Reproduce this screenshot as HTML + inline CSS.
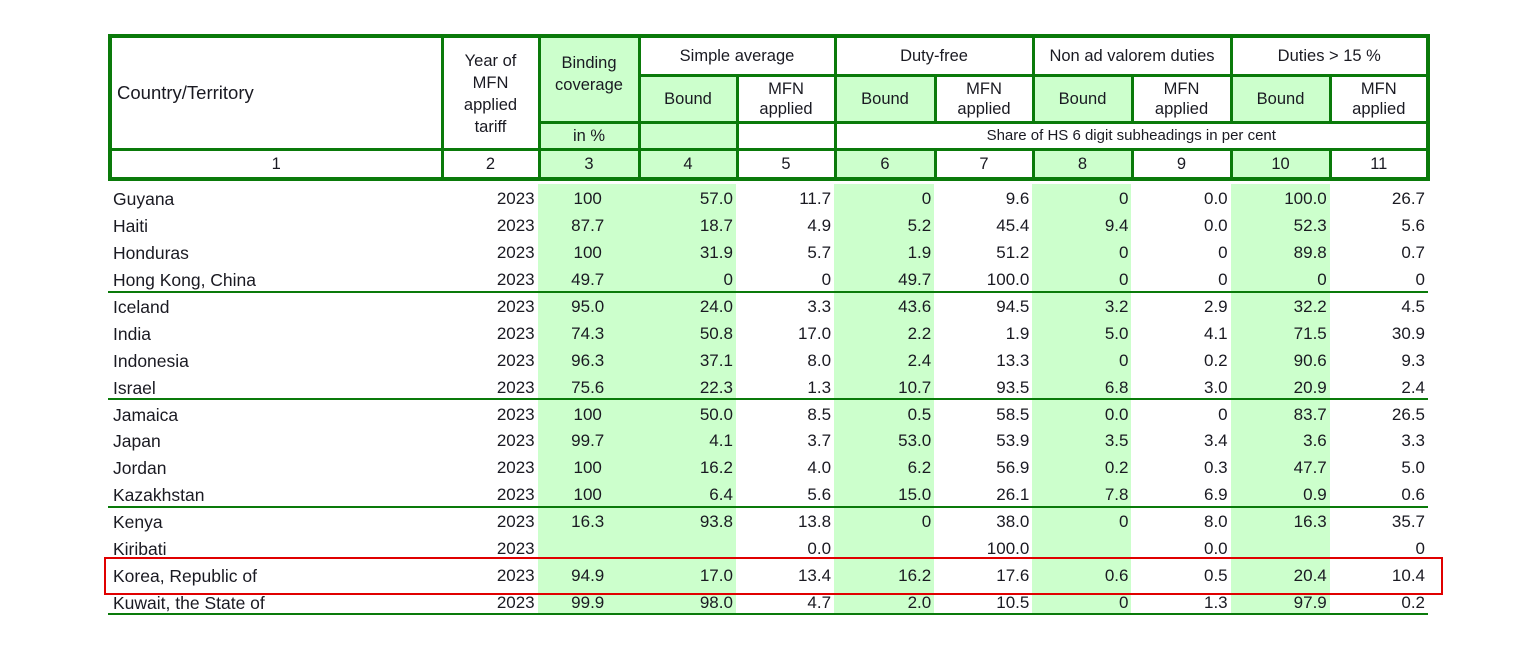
<!DOCTYPE html>
<html><head><meta charset="utf-8">
<style>
html,body{margin:0;padding:0;background:#fff;width:1516px;height:645px;overflow:hidden;}
body{font-family:"Liberation Sans",Arial,sans-serif;color:#1a1a22;position:relative;}
table{border-collapse:collapse;table-layout:fixed;position:absolute;left:108px;width:1320px;}
#hdr{top:34px;border:4px solid #0a7a0a;}
#hdr td{border:3px solid #0a7a0a;text-align:center;font-size:16.5px;line-height:20px;padding:0;}
#hdr .g{background:#ccffcc;}
#body{top:184px;}
#body td{height:26.9px;padding:4px 3px 0 0;font-size:17px;text-align:right;vertical-align:middle;line-height:20px;box-sizing:border-box;}
#body td.c1{text-align:left;padding-left:5px;font-size:17.5px;}
#body td.c3{text-align:center;padding-right:0;}
#body td.g{background:#ccffcc;}
.sepline{position:absolute;left:108px;width:1320px;height:2px;background:#0a7a0a;}
#redbox{position:absolute;left:104px;top:557px;width:1335px;height:34px;border:2px solid #e00000;}
</style></head><body>
<table id="hdr">
<colgroup><col style="width:332px"><col style="width:97px"><col style="width:100px"><col style="width:98px"><col style="width:98px"><col style="width:100px"><col style="width:98px"><col style="width:99px"><col style="width:99px"><col style="width:99px"><col style="width:98px"></colgroup>
<tr style="height:39px">
<td rowspan="3" style="text-align:left;padding-left:5px;font-size:18.5px">Country/Territory</td>
<td rowspan="3" style="padding-top:2px;line-height:22px">Year of<br>MFN<br>applied<br>tariff</td>
<td rowspan="2" class="g" style="vertical-align:top;padding-top:14px;line-height:22px">Binding<br>coverage</td>
<td colspan="2">Simple average</td>
<td colspan="2">Duty-free</td>
<td colspan="2">Non ad valorem duties</td>
<td colspan="2">Duties &gt; 15 %</td>
</tr>
<tr style="height:47px">
<td class="g">Bound</td><td>MFN<br>applied</td>
<td class="g">Bound</td><td>MFN<br>applied</td>
<td class="g">Bound</td><td>MFN<br>applied</td>
<td class="g">Bound</td><td>MFN<br>applied</td>
</tr>
<tr style="height:27px">
<td class="g">in %</td>
<td class="g"></td><td></td>
<td colspan="6" style="font-size:15px">Share of HS 6 digit subheadings in per cent</td>
</tr>
<tr style="height:30px">
<td>1</td><td>2</td><td class="g">3</td><td class="g">4</td><td>5</td><td class="g">6</td><td>7</td><td class="g">8</td><td>9</td><td class="g">10</td><td>11</td>
</tr>
</table>

<table id="body">
<colgroup><col style="width:332px"><col style="width:97px"><col style="width:100px"><col style="width:98px"><col style="width:98px"><col style="width:100px"><col style="width:98px"><col style="width:99px"><col style="width:99px"><col style="width:99px"><col style="width:98px"></colgroup>
<tbody id="tb"></tbody>
</table>
<div id="redbox"></div>

<script>
const countries=["Guyana","Haiti","Honduras","Hong Kong, China","Iceland","India","Indonesia","Israel","Jamaica","Japan","Jordan","Kazakhstan","Kenya","Kiribati","Korea, Republic of","Kuwait, the State of"];
const years=["2023","2023","2023","2023","2023","2023","2023","2023","2023","2023","2023","2023","2023","2023","2023","2023"];
const bindingCoverage=["100","87.7","100","49.7","95.0","74.3","96.3","75.6","100","99.7","100","100","16.3","","94.9","99.9"];
const avgBound=["57.0","18.7","31.9","0","24.0","50.8","37.1","22.3","50.0","4.1","16.2","6.4","93.8","","17.0","98.0"];
const avgApplied=["11.7","4.9","5.7","0","3.3","17.0","8.0","1.3","8.5","3.7","4.0","5.6","13.8","0.0","13.4","4.7"];
const dfBound=["0","5.2","1.9","49.7","43.6","2.2","2.4","10.7","0.5","53.0","6.2","15.0","0","","16.2","2.0"];
const dfApplied=["9.6","45.4","51.2","100.0","94.5","1.9","13.3","93.5","58.5","53.9","56.9","26.1","38.0","100.0","17.6","10.5"];
const navBound=["0","9.4","0","0","3.2","5.0","0","6.8","0.0","3.5","0.2","7.8","0","","0.6","0"];
const navApplied=["0.0","0.0","0","0","2.9","4.1","0.2","3.0","0","3.4","0.3","6.9","8.0","0.0","0.5","1.3"];
const d15Bound=["100.0","52.3","89.8","0","32.2","71.5","90.6","20.9","83.7","3.6","47.7","0.9","16.3","","20.4","97.9"];
const d15Applied=["26.7","5.6","0.7","0","4.5","30.9","9.3","2.4","26.5","3.3","5.0","0.6","35.7","0","10.4","0.2"];
const cols=[countries,years,bindingCoverage,avgBound,avgApplied,dfBound,dfApplied,navBound,navApplied,d15Bound,d15Applied];
const green=[false,false,true,true,false,true,false,true,false,true,false];
const ROW_H=26.9, TOP=184;
const tb=document.getElementById('tb');
for(let r=0;r<countries.length;r++){
  const tr=document.createElement('tr');
  
  
  for(let c=0;c<cols.length;c++){
    const td=document.createElement('td');
    
    
    let cls=[];
    if(c===0) cls.push('c1');
    if(c===2) cls.push('c3');
    if(green[c]) cls.push('g');
    td.className=cls.join(' ');
    td.textContent=cols[c][r];
    tr.appendChild(td);
  }
  tb.appendChild(tr);
  if(r%4===3){
    const ln=document.createElement('div');
    
    
    ln.className='sepline';
    ln.style.top=(TOP+(r+1)*ROW_H-1)+'px';
    document.body.appendChild(ln);
  }
}
</script>
</body></html>
